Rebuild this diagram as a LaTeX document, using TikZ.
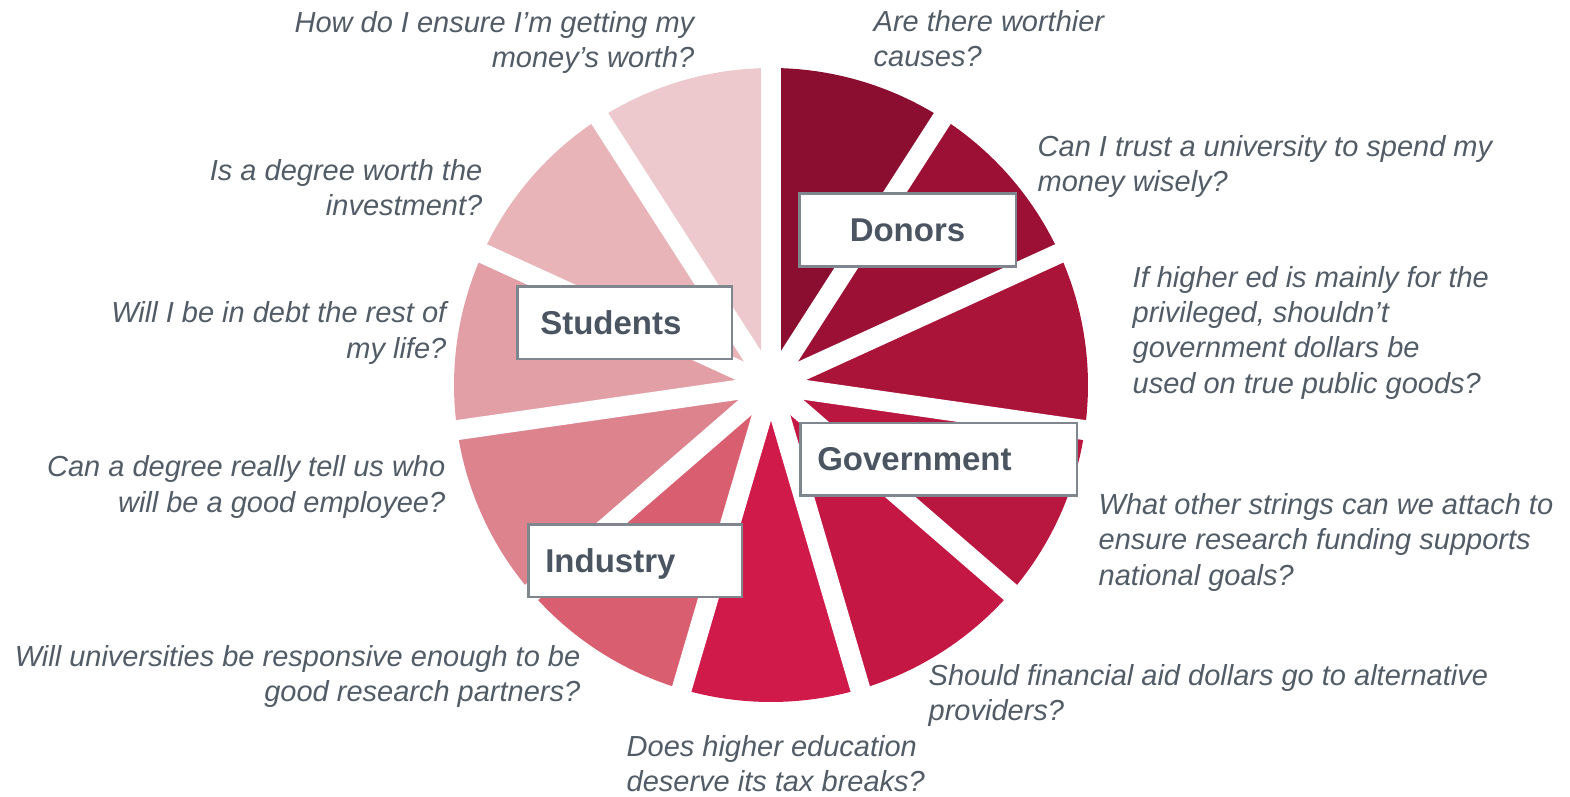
\documentclass[tikz,border=0pt]{standalone}
\usepackage{fontspec}
\setmainfont{Liberation Sans}
\usepackage{tikz}
\definecolor{sliceA}{HTML}{8B0D2F}
\definecolor{sliceB}{HTML}{9C1035}
\definecolor{sliceC}{HTML}{AB1439}
\definecolor{sliceD}{HTML}{B91640}
\definecolor{sliceE}{HTML}{C51744}
\definecolor{sliceF}{HTML}{D01A4A}
\definecolor{sliceG}{HTML}{D95F70}
\definecolor{sliceH}{HTML}{DD838E}
\definecolor{sliceI}{HTML}{E2A0A6}
\definecolor{sliceJ}{HTML}{E8B4B8}
\definecolor{sliceK}{HTML}{EDC8CC}
\definecolor{qtext}{HTML}{525C66}
\definecolor{boxtext}{HTML}{4A5561}
\definecolor{boxline}{HTML}{80868D}
\tikzset{
  question/.style={text=qtext, inner sep=0pt,
    font=\fontsize{8.25}{9.96}\selectfont\itshape},
  groupbox/.style 2 args={draw=boxline, line width=0.025cm, fill=white,
    text=boxtext, font=\fontsize{9.39}{11}\selectfont\bfseries,
    text width=#1cm, inner xsep=#2cm, inner ysep=0pt, align=left,
    minimum height=0.725cm, text height=6.7pt, text depth=0pt},
}

\begin{document}
\begin{tikzpicture}
\useasboundingbox (0,0) rectangle (15.70,7.96);
\def\R{3.17}
% eleven equal slices, clockwise from the top
\begin{scope}[shift={(7.71,4.11)}]
\foreach \i/\col in {
  0/sliceA,1/sliceB,2/sliceC,3/sliceD,4/sliceE,5/sliceF,
  6/sliceG,7/sliceH,8/sliceI,9/sliceJ,10/sliceK}{
  \pgfmathsetmacro\a{90-\i*360/11}
  \pgfmathsetmacro\b{\a-360/11}
  \fill[\col] (0,0) -- (\a:\R) arc[start angle=\a, end angle=\b, radius=\R] -- cycle;
}
% white gaps between the slices
\foreach \i in {0,...,10}{
  \draw[white, line width=0.2cm] (0,0) -- ({90-\i*360/11}:{\R+0.1});
}
\end{scope}

% questions round the pie (base = last line)
\node[question, anchor=base east, align=right] (worth) at (6.95,7.283)
  {How do I ensure I’m getting my\\money’s worth?};
\node[question, anchor=base west, align=left] (worthier) at (8.73,7.29)
  {Are there worthier\\causes?};
\node[question, anchor=base west, align=left] (trust) at (10.37,6.04)
  {Can I trust a university to spend my\\money wisely?};
\node[question, anchor=base west, align=left] (privileged) at (11.32,4.03)
  {If higher ed is mainly for the\\privileged, shouldn’t\\government dollars be\\used on true public goods?};
\node[question, anchor=base west, align=left] (strings) at (10.98,2.11)
  {What other strings can we attach to\\ensure research funding supports\\national goals?};
\node[question, anchor=base west, align=left] (finaid) at (9.28,0.76)
  {Should financial aid dollars go to alternative\\providers?};
\node[question, anchor=base west, align=left] (taxbreak) at (6.26,0.05)
  {Does higher education\\deserve its tax breaks?};
\node[question, anchor=base east, align=right] (partners) at (5.81,0.95)
  {Will universities be responsive enough to be\\good research partners?};
\node[question, anchor=base east, align=right] (employee) at (4.46,2.84)
  {Can a degree really tell us who\\will be a good employee?};
\node[question, anchor=base east, align=right] (debt) at (4.47,4.38)
  {Will I be in debt the rest of\\my life?};
\node[question, anchor=base east, align=right] (investment) at (4.83,5.80)
  {Is a degree worth the\\investment?};

% group boxes
\node[groupbox={1.565}{0.30}, align=center] (donors) at (9.075,5.66) {Donors};
\node[groupbox={1.685}{0.23}] (students) at (6.245,4.735) {Students};
\node[groupbox={2.425}{0.17}] (government) at (9.385,3.37) {Government};
\node[groupbox={1.795}{0.17}] (industry) at (6.35,2.355) {Industry};
\end{tikzpicture}
\end{document}
